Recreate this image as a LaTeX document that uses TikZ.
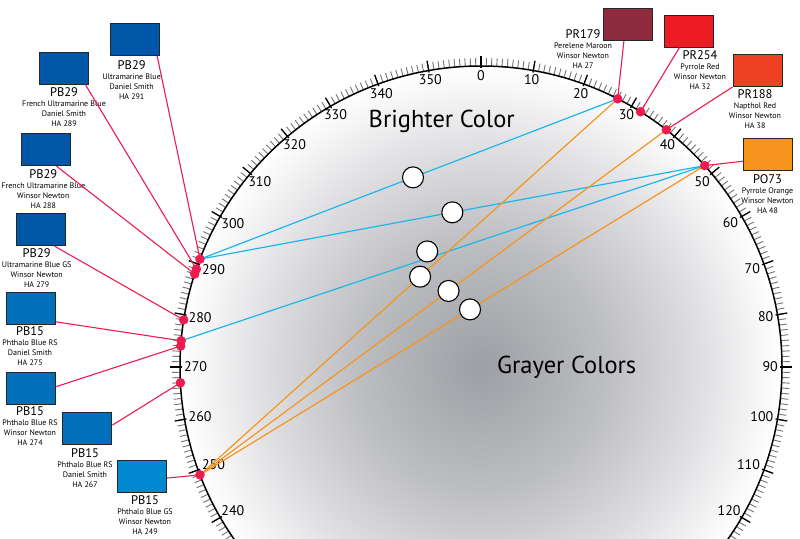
\documentclass[tikz,border=0pt]{standalone}
\usepackage{fontspec}
\setmainfont{PT Sans}
\usepackage{tkz-euclide}
\usetikzlibrary{calc}

\definecolor{pbdark}{RGB}{0,87,168}
\definecolor{pbrs}{RGB}{0,112,186}
\definecolor{pbgs}{RGB}{0,136,208}
\definecolor{maroon}{RGB}{142,43,62}
\definecolor{pyrred}{RGB}{237,28,36}
\definecolor{napred}{RGB}{239,65,35}
\definecolor{pyrorange}{RGB}{247,148,29}
\definecolor{linkred}{RGB}{236,27,80}
\definecolor{chordblue}{RGB}{28,182,236}
\definecolor{chordorange}{RGB}{247,148,29}
\definecolor{grcore}{RGB}{158,159,164}
\definecolor{grmid}{RGB}{188,189,193}
\definecolor{grlight}{RGB}{222,222,225}

\pgfdeclareradialshading{grayer}{\pgfpointorigin}{color(0bp)=(grcore); color(10bp)=(grmid); color(18bp)=(grlight); color(25bp)=(white); color(50bp)=(white)}

\newcommand{\pigcode}[1]{{\fontsize{12.5}{12.5}\selectfont #1}}

\begin{document}
\begin{tikzpicture}[x=1pt,y=-1pt,
   minortick/.style={black!55,line width=0.9pt},
   majortick/.style={black,line width=1.3pt},
   deg/.style={font=\fontsize{14}{14}\selectfont,inner sep=0pt},
   swatch/.style={draw=black!85,line width=1pt,minimum width=49pt,minimum height=32pt,inner sep=0pt},
   info/.style={font=\fontsize{8}{10}\selectfont,align=center,inner sep=0pt,anchor=north},
   huelink/.style={linkred,line width=1.1pt},
   bluechord/.style={chordblue,line width=1.2pt},
   orangechord/.style={chordorange,line width=1.2pt},
   mixdot/.style={circle,draw=black,fill=white,line width=1.1pt,minimum size=21pt,inner sep=0pt},
   bigtext/.style={font=\fontsize{24.5}{24.5}\selectfont,anchor=base,inner sep=0pt}]

   \useasboundingbox (0,0) rectangle (800,538);
   \clip (0,0) rectangle (800,538);

\begin{scope}[shift={(481,367)}]
   \tkzDefPoint(0,0){O}
   \shade[shading=grayer] (O) circle[radius=301pt];
   \foreach \h in {0,...,359}
      \draw[minortick] ({\h-90}:301) -- ({\h-90}:309);
   \foreach \h in {0,10,...,350}
      \draw[majortick] ({\h-90}:299) -- ({\h-90}:311);
   \draw[line width=1.5pt] (O) circle[radius=301pt];
   \foreach \h [evaluate=\h as \a using {int(mod(450-\h,360))}] in {0,10,...,120,240,250,...,350}
      \node[deg,anchor=\a] at ({\h-90}:297) {\h};
   \tkzDefPoint(-63:301){H27}
   \tkzDefPoint(-58:301){H32}
   \tkzDefPoint(-52:301){H38}
   \tkzDefPoint(-42:301){H48}
   \tkzDefPoint(159:301){H249}
   \tkzDefPoint(177:301){H267}
   \tkzDefPoint(184:301){H274}
   \tkzDefPoint(185:301){H275}
   \tkzDefPoint(189:301){H279}
   \tkzDefPoint(198:301){H288}
   \tkzDefPoint(199:301){H289}
   \tkzDefPoint(201:301){H291}
\end{scope}

   \tkzDrawSegments[bluechord](H291,H27 H291,H48 H275,H48)
   \tkzDrawSegments[orangechord](H249,H27 H249,H38 H249,H48)
   \node[mixdot] (m1) at ($(H291)!0.51!(H27)$) {};
   \node[mixdot] (m2) at ($(H291)!0.5!(H48)$) {};
   \node[mixdot,yshift=7pt] (m3) at ($(H275)!0.47!(H48)$) {};
   \node[mixdot] (m4) at ($(H249)!0.527!(H27)$) {};
   \node[mixdot] (m5) at ($(H249)!0.533!(H38)$) {};
   \node[mixdot] (m6) at ($(H249)!0.535!(H48)$) {};

   \node[bigtext] (bright) at (441.7,127.3) {Brighter Color};
   \node[bigtext] (grayer) at (566.7,373.3) {Grayer Colors};

   \node[swatch,fill=maroon] (s27) at (628,24.5) {};
   \node[swatch,fill=pyrred] (s32) at (689,31) {};
   \node[swatch,fill=napred] (s38) at (757.5,70.5) {};
   \node[swatch,fill=pyrorange] (s48) at (768.3,154.5) {};
   \node[swatch,fill=pbdark] (s291) at (135.3,39.7) {};
   \node[swatch,fill=pbdark] (s289) at (64.2,68) {};
   \node[swatch,fill=pbdark] (s288) at (45.8,149.7) {};
   \node[swatch,fill=pbdark] (s279) at (41.3,229.7) {};
   \node[swatch,fill=pbrs] (s275) at (31,308) {};
   \node[swatch,fill=pbrs] (s274) at (31,388) {};
   \node[swatch,fill=pbrs] (s267) at (87.3,428.7) {};
   \node[swatch,fill=pbgs] (s249) at (142,476.3) {};

   \node[info] (t27) at (583,29.8) {\pigcode{PR179}\\Perelene Maroon\\Winsor Newton\\HA 27};
   \node[info] (t32) at (700,50.8) {\pigcode{PR254}\\Pyrrole Red\\Winsor Newton\\HA 32};
   \node[info] (t38) at (755,89.8) {\pigcode{PR188}\\Napthol Red\\Winsor Newton\\HA 38};
   \node[info] (t48) at (767.5,174.1) {\pigcode{PO73}\\Pyrrole Orange\\Winsor Newton\\HA 48};
   \node[info] (t291) at (131.7,60.1) {\pigcode{PB29}\\Ultramarine Blue\\Daniel Smith\\HA 291};
   \node[info] (t289) at (64,87.5) {\pigcode{PB29}\\French Ultramarine Blue\\Daniel Smith\\HA 289};
   \node[info] (t288) at (43.3,169.1) {\pigcode{PB29}\\French Ultramarine Blue\\Winsor Newton\\HA 288};
   \node[info] (t279) at (36.7,248.5) {\pigcode{PB29}\\Ultramarine Blue GS\\Winsor Newton\\HA 279};
   \node[info] (t275) at (30,326.8) {\pigcode{PB15}\\Phthalo Blue RS\\Daniel Smith\\HA 275};
   \node[info] (t274) at (30,406.8) {\pigcode{PB15}\\Phthalo Blue RS\\Winsor Newton\\HA 274};
   \node[info] (t267) at (85,448.5) {\pigcode{PB15}\\Phthalo Blue RS\\Daniel Smith\\HA 267};
   \node[info] (t249) at (145,495.8) {\pigcode{PB15}\\Phthalo Blue GS\\Winsor Newton\\HA 249};

   \draw[huelink] (s27.256) -- (H27);
   \draw[huelink] (s32.240) -- (H32);
   \draw[huelink] (s38.south west) -- (H38);
   \draw[huelink] (s48.195) -- (H48);
   \draw[huelink] (s291.323) -- (H291);
   \draw[huelink] (s289.322) -- (H289);
   \draw[huelink] (s288.303) -- (H288);
   \draw[huelink] (s279.309) -- (H279);
   \draw[huelink] (s275.331) -- (H275);
   \draw[huelink] (s274.3) -- (H274);
   \draw[huelink] (s267.8) -- (H267);
   \draw[huelink] (s249.356) -- (H249);
   \tkzDrawPoints[color=linkred,fill=linkred,size=9](H27,H32,H38,H48,H249,H267,H274,H275,H279,H288,H289,H291)

\end{tikzpicture}
\end{document}
